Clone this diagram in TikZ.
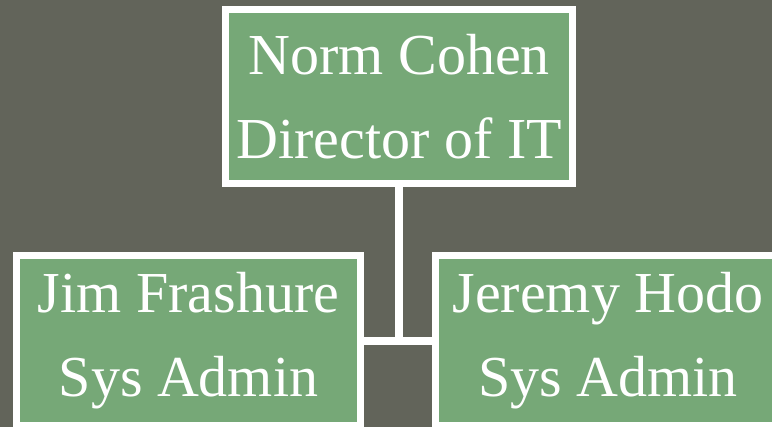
\documentclass[tikz,border=0pt]{standalone}
\usepackage{fontspec}
\setmainfont{Liberation Serif}
\definecolor{slate}{HTML}{62645A}
\definecolor{sage}{HTML}{76A877}
\begin{document}
\begin{tikzpicture}[x=1pt,y=-1pt,
    person/.style={draw=white,line width=7pt,fill=sage,text=white,align=center,
      minimum width=344.6pt,minimum height=170pt,inner sep=0pt,
      font=\fontsize{58}{84}\selectfont},
    link/.style={draw=white,line width=8pt}]
  \fill[slate] (0,0) rectangle (772,427);
  \useasboundingbox (0,0) rectangle (772,427);
  \node[person,minimum width=347.5pt,minimum height=173.3pt] (norm) at (399.2,96.4) {Norm Cohen\\Director of IT};
  \node[person] (jim) at (188.5,341) {Jim Frashure\\Sys Admin};
  \node[person] (jeremy) at (608,341) {Jeremy Hodo\\Sys Admin};
  \begin{scope}[link]
    \draw (norm.south) to (norm.south |- jim.east);
    \draw (jim.east) to (jeremy.west);
  \end{scope}
\end{tikzpicture}
\end{document}
